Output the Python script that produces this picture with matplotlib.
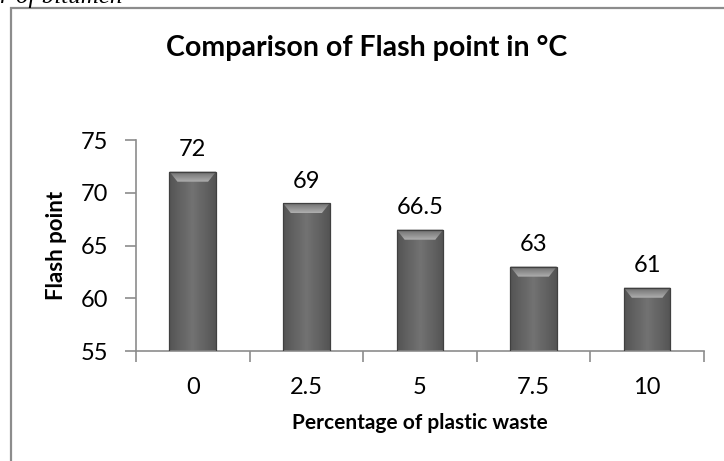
import numpy as np
import matplotlib
matplotlib.use('Agg')
import matplotlib.pyplot as plt
from matplotlib.patches import Rectangle, Polygon

# data
categories = ['0', '2.5', '5', '7.5', '10']
flash_point = [72, 69, 66.5, 63, 61]
value_labels = ['72', '69', '66.5', '63', '61']

plt.rcParams['font.family'] = ['Lato', 'DejaVu Sans']

fig = plt.figure(figsize=(7.24, 4.61), dpi=100)
ax = fig.add_axes([0.1878, 0.2386, 0.7845, 0.4577])

# outer chart frame (cut off at right and bottom like the source)
frame = Rectangle((11 / 724, -0.1), 1.0, 1 - 8 / 461 + 0.1, transform=fig.transFigure,
                  fill=False, edgecolor='#8c8c8c', linewidth=1.6, zorder=0)
fig.patches.append(frame)

# caption fragment from the document, partly above the page edge
fig.text(0.0, 1.008, 'r of bitumen', fontsize=18, style='italic', family='Liberation Serif',
         ha='left', va='center')

x = np.arange(len(categories))
bw = 0.41
bars = ax.bar(x, flash_point, width=bw, bottom=0, color='#626262',
              edgecolor='none', zorder=2)

# horizontal shading on each bar
grad = np.linspace(0, 1, 64)
shade = 0.45 - 0.12 * np.abs(grad - 0.5) * 2
img = np.tile(shade, (2, 1))
bevel = np.linspace(0.42, 0.68, 16)[:, None] * np.ones((1, 64))
bh = 0.95   # bevel height in data units
inset = 0.07
for b, v in zip(bars, flash_point):
    x0 = b.get_x()
    x1 = x0 + bw
    im = ax.imshow(img, cmap='gray', vmin=0, vmax=1, aspect='auto',
                   extent=(x0, x1, 55, v), zorder=2.5, interpolation='bilinear')
    im.set_clip_path(b)
    # bevel on top of the bar
    trap = Polygon([(x0, v), (x1, v), (x1 - inset, v - bh), (x0 + inset, v - bh)],
                   closed=True, facecolor='none', edgecolor='none')
    ax.add_patch(trap)
    im2 = ax.imshow(bevel, cmap='gray', vmin=0, vmax=1, aspect='auto',
                    extent=(x0, x1, v - bh, v), zorder=3, interpolation='bilinear')
    im2.set_clip_path(trap)
    ax.bar(b.get_x() + bw / 2, v - 55, width=bw, bottom=55, color='none',
           edgecolor='#404040', linewidth=0.9, zorder=3.5)

for xi, v, t in zip(x, flash_point, value_labels):
    ax.text(xi, v + 1.1, t, ha='center', va='bottom', fontsize=17)

ax.set_xlim(-0.5, len(categories) - 0.5)
ax.set_ylim(55, 75)
ax.set_yticks([55, 60, 65, 70, 75])
ax.set_xticks(x)
ax.set_xticklabels(categories)
ax.set_xticks(np.arange(-0.5, len(categories)), minor=True)
ax.tick_params(axis='x', which='major', length=0, pad=19, labelsize=17)
ax.tick_params(axis='x', which='minor', length=8, width=1.2, color='#8c8c8c')
ax.tick_params(axis='y', length=8, width=1.2, color='#8c8c8c', pad=12, labelsize=17)

for s in ['top', 'right']:
    ax.spines[s].set_visible(False)
for s in ['left', 'bottom']:
    ax.spines[s].set_color('#8c8c8c')
    ax.spines[s].set_linewidth(1.2)

ax.set_xlabel('Percentage of plastic waste', fontsize=15, fontweight='bold', va='center')
ax.xaxis.set_label_coords(0.5, -0.34)
ax.set_ylabel('Flash point', fontsize=16, fontweight='bold', labelpad=10)

fig.text(367 / 724, 1 - 48 / 461, 'Comparison of Flash point in °C', ha='center', va='center',
         fontsize=20.5, fontweight='bold')

fig.savefig('out.png', dpi=100)
